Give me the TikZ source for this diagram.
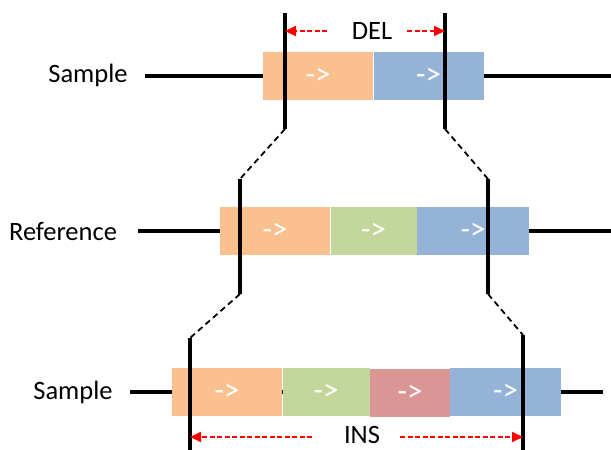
\documentclass[tikz,border=0pt]{standalone}
\usepackage{fontspec}
\setmainfont{Carlito}
\usetikzlibrary{arrows.meta}

\definecolor{segorange}{HTML}{FAC090}
\definecolor{seggreen}{HTML}{C3D69B}
\definecolor{segred}{HTML}{D99694}
\definecolor{segblue}{HTML}{95B3D7}

\tikzset{
  seg/.style={anchor=west, inner sep=0pt, minimum height=48, text=white,
    font=\fontsize{31}{36}\selectfont},
  strand/.style={line width=3.6pt},
  cut/.style={line width=3.4pt},
  link/.style={dashed, dash pattern=on 6pt off 4pt, line width=1.8pt},
  span/.style={red, dash pattern=on 5pt off 2.5pt, line width=1.8pt, -{Triangle[length=11pt,width=10pt]}},
  tag/.style={font=\fontsize{26.5}{30}\selectfont}
}

\begin{document}
\begin{tikzpicture}[x=1pt,y=-1pt]
  \useasboundingbox (0,0) rectangle (611,450);

  % sample with deletion
  \node[tag] (samp1) at (88,75) {Sample};
  \node[seg, fill=segorange, minimum width=110] (s1a) at (263,76) {->};
  \node[seg, fill=segblue, minimum width=110] (s1b) at (s1a.east) {->};
  \coordinate (s1in) at (145,76);
  \coordinate (s1out) at (611,76);
  \draw[strand] (s1in) -- (s1a.west);
  \draw[strand] (s1b.east) -- (s1out);

  % reference
  \node[tag] (ref) at (63,232) {Reference};
  \node[seg, fill=segorange, minimum width=110] (r1a) at (220,231) {->};
  \node[seg, fill=seggreen, minimum width=86] (r1b) at (r1a.east) {->};
  \node[seg, fill=segblue, minimum width=112] (r1c) at (r1b.east) {->};
  \coordinate (r1in) at (138,231);
  \coordinate (r1out) at (611,231);
  \draw[strand] (r1in) -- (r1a.west);
  \draw[strand] (r1c.east) -- (r1out);

  % sample with insertion
  \node[tag] (samp2) at (73,392) {Sample};
  \coordinate (s2in) at (130,392);
  \coordinate (s2out) at (603,392);
  \draw[strand] (s2in) -- (s2out);
  \node[seg, fill=segorange, minimum width=110] (s2a) at (172,392) {->};
  \node[seg, fill=seggreen, minimum width=87] (s2b) at (s2a.east) {->};
  \node[seg, fill=segred, minimum width=80] (s2c) at (370,393) {->};
  \node[seg, fill=segblue, minimum width=111] (s2d) at (450,392) {->};

  % breakpoints
  \coordinate (b1lt) at (285,13);  \coordinate (b1lb) at (285,129);
  \coordinate (b1rt) at (445,13);  \coordinate (b1rb) at (445,129);
  \coordinate (b2lt) at (240,179); \coordinate (b2lb) at (240,294);
  \coordinate (b2rt) at (488,179); \coordinate (b2rb) at (488,294);
  \coordinate (b3lt) at (190,338); \coordinate (b3lb) at (190,450);
  \coordinate (b3rt) at (523,335); \coordinate (b3rb) at (523,450);
  \draw[cut] (b1lt) -- (b1lb);
  \draw[cut] (b1rt) -- (b1rb);
  \draw[cut] (b2lt) -- (b2lb);
  \draw[cut] (b2rt) -- (b2rb);
  \draw[cut] (b3lt) -- (b3lb);
  \draw[cut] (b3rt) -- (b3rb);

  \draw[link] (b1lb) -- (b2lt);
  \draw[link] (b1rb) -- (b2rt);
  \draw[link] (b2lb) -- (b3lt);
  \draw[link] (b2rb) -- (b3rt);

  % deletion / insertion spans
  \node[tag] (del) at (372,31) {DEL};
  \coordinate (delL) at (327,31);
  \coordinate (delR) at (407,31);
  \draw[span] (delL) -- (b1lt |- del);
  \draw[span] (delR) -- (b1rt |- del);

  \node[tag, anchor=base, inner sep=1pt] (ins) at (362,443) {INS};
  \coordinate (insL) at (312,437);
  \coordinate (insR) at (400,437);
  \draw[span] (insL) -- (b3lt |- insL);
  \draw[span] (insR) -- (b3rt |- insR);
\end{tikzpicture}
\end{document}
